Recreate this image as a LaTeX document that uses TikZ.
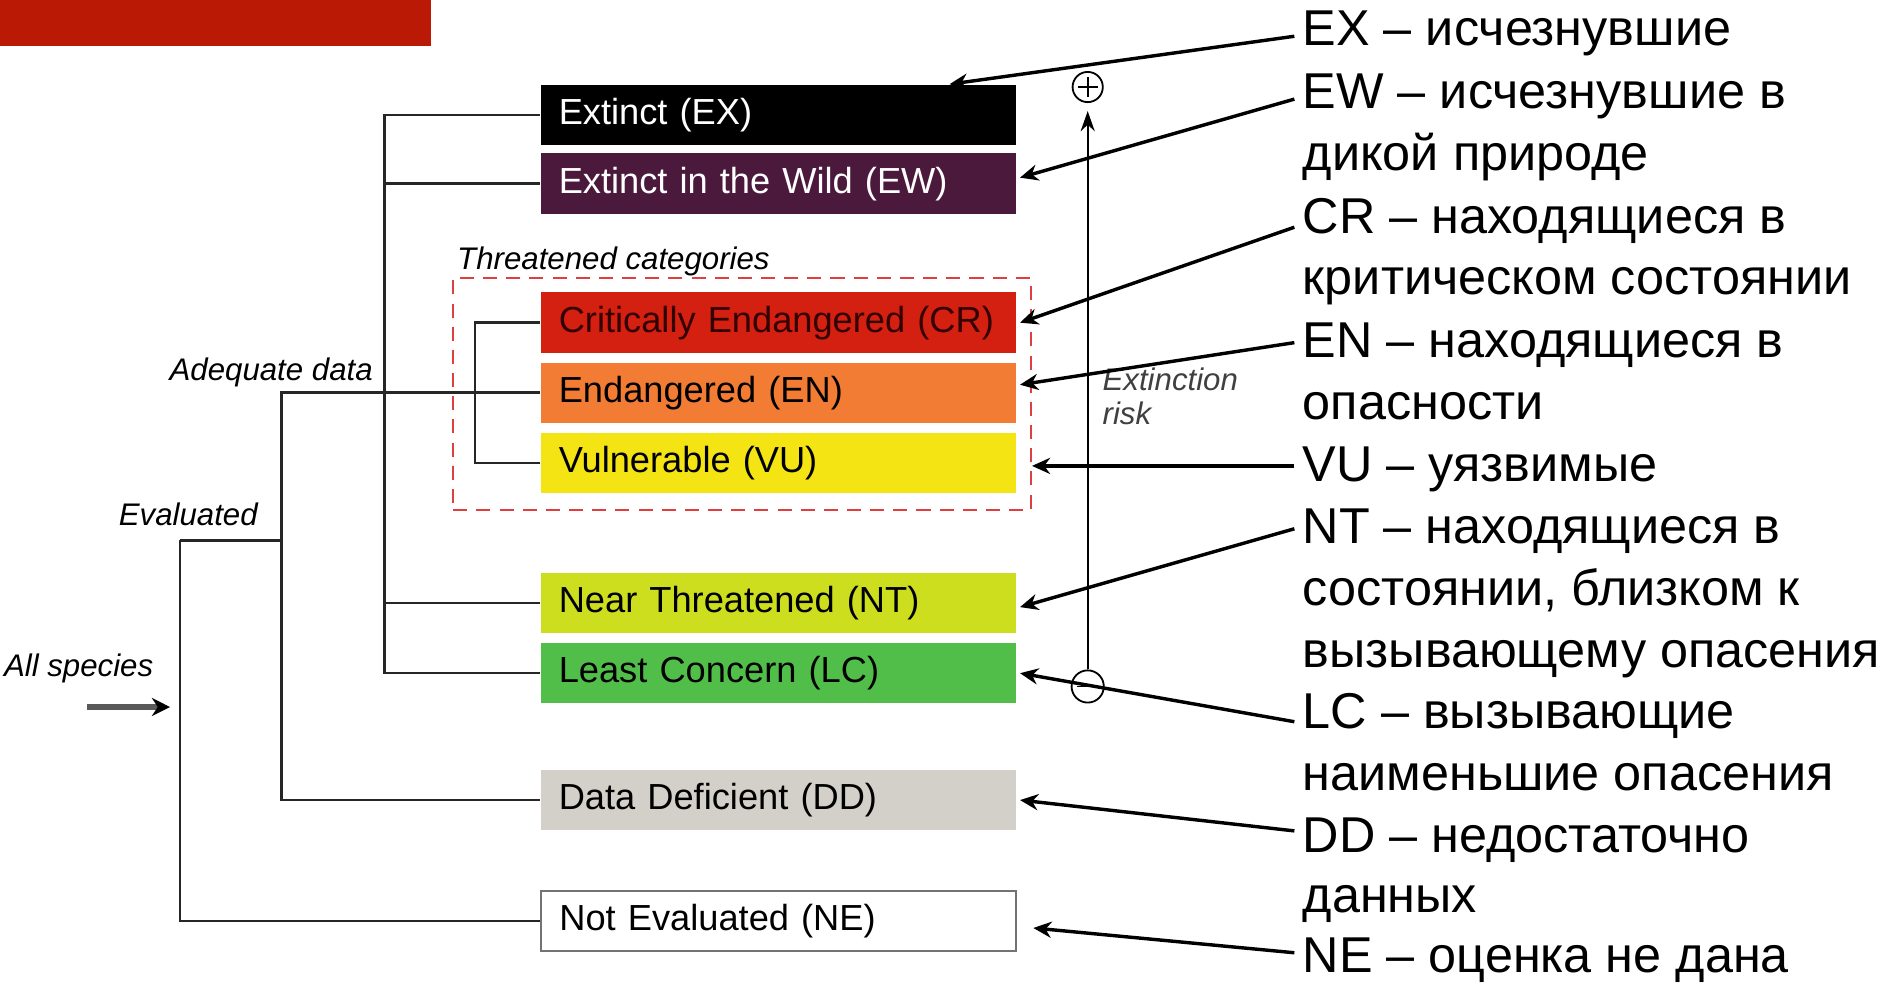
\documentclass[tikz,border=0pt]{standalone}
\usepackage{fontspec}
\setmainfont{Liberation Sans}
\usetikzlibrary{arrows.meta}
\definecolor{redbar}{RGB}{185,25,5}
\definecolor{ewpurple}{RGB}{75,25,60}
\definecolor{crred}{RGB}{212,32,16}
\definecolor{enorange}{RGB}{243,124,52}
\definecolor{vuyellow}{RGB}{245,228,20}
\definecolor{ntlime}{RGB}{205,222,30}
\definecolor{lcgreen}{RGB}{82,190,74}
\definecolor{ddgray}{RGB}{210,208,200}
\definecolor{thrred}{RGB}{222,64,64}

\begin{document}
\begin{tikzpicture}[x=0.6pt, y=-0.6pt,
  cat/.style = {anchor=west, minimum width=235.8pt, minimum height=30pt,
    inner xsep=9pt, text width=217.8pt, align=left,
    font=\fontsize{18}{21}\selectfont},
  desc/.style = {anchor=base west, inner sep=4pt,
    text height=18pt, text depth=3pt, font=\fontsize{25}{30}\selectfont},
  lbl/.style = {anchor=base west, inner sep=0pt,
    font=\itshape\fontsize{15.5}{16.8}\selectfont},
  tree/.style = {line width=1.3pt, draw=black!85},
  pointer/.style = {line width=1.7pt, -{Stealth[length=9pt,width=8pt]}},
  sign/.style = {circle, draw, line width=0.9pt, inner sep=0pt, minimum size=15pt}]
  \useasboundingbox (0,0) rectangle (1568,816);
  \fill[redbar] (0,0) rectangle (357,38);

  \node[draw=thrred, dash pattern=on 7pt off 4.5pt, line width=1.1pt,
    minimum width=286.8pt, minimum height=115.2pt] (thr) at (614,326) {};
  \node[lbl] (thrlbl) at (378,223) {Threatened categories};

  \node[cat, fill=black, text=white] (ex) at (447,95) {Extinct (EX)};
  \node[cat, fill=ewpurple, text=white] (ew) at (447,152) {Extinct in the Wild (EW)};
  \node[cat, fill=crred, text=black!80!red] (cr) at (447,267) {Critically Endangered (CR)};
  \node[cat, fill=enorange] (en) at (447,325) {Endangered (EN)};
  \node[cat, fill=vuyellow] (vu) at (447,383) {Vulnerable (VU)};
  \node[cat, fill=ntlime] (nt) at (447,499) {Near Threatened (NT)};
  \node[cat, fill=lcgreen] (lc) at (447,557) {Least Concern (LC)};
  \node[cat, fill=ddgray] (dd) at (447,662) {Data Deficient (DD)};
  \node[cat, fill=white, draw=black!55, line width=1pt] (ne) at (447,762) {Not Evaluated (NE)};

  \node[lbl] (adqlbl) at (140,315) {Adequate data};
  \node[lbl] (evllbl) at (98,435) {Evaluated};
  \node[lbl] (alllbl) at (3,560) {All species};
  \node[lbl, anchor=north west, align=left, text=black!75] (risk) at (912,304)
    {Extinction\\risk};

  \coordinate (trunk) at (318,0);
  \coordinate (thrx) at (393,0);
  \coordinate (adq) at (233,0);
  \coordinate (evl) at (149,447);
  \coordinate (allsp) at (72,585);

  \draw[tree] (ex.west) -| (lc.west -| trunk) -- (lc.west);
  \draw[tree] (ew.west) -- (ew.west -| trunk);
  \draw[tree] (nt.west) -- (nt.west -| trunk);
  \draw[tree] (cr.west) -| (vu.west -| thrx) -- (vu.west);
  \draw[tree] (en.west) -| (dd.west -| adq) -- (dd.west);
  \draw[tree] (evl) -- (evl -| adq);
  \draw[tree] (evl) |- (ne.west);
  \draw[line width=2.6pt, draw=black!65, -{Stealth[length=9pt,width=9pt,black]},
    shorten >=5pt] (allsp) -- (allsp -| evl);

  \node[sign] (plus) at (900,72) {};
  \draw[line width=0.9pt] ([yshift=5pt]plus.center) -- ([yshift=-5pt]plus.center)
    ([xshift=-5pt]plus.center) -- ([xshift=5pt]plus.center);
  \node[sign, minimum size=16pt] (minus) at (900,568) {};
  \draw[line width=0.9pt] ([xshift=-5.5pt]minus.center) -- ([xshift=5.5pt]minus.center);
  \draw[line width=1pt, -{Stealth[length=10pt,width=7pt]}, shorten >=4pt]
    (minus) -- (plus);

  \node[desc] (dex) at (1071,38) {EX – исчезнувшие};
  \node[desc] (dew) at (1071,90) {EW – исчезнувшие в};
  \node[desc] (dew2) at (1071,141) {дикой природе};
  \node[desc] (dcr) at (1071,193) {CR – находящиеся в};
  \node[desc] (dcr2) at (1071,244) {критическом состоянии};
  \node[desc] (den) at (1071,296) {EN – находящиеся в};
  \node[desc] (den2) at (1071,347) {опасности};
  \node[desc] (dvu) at (1071,398) {VU – уязвимые};
  \node[desc] (dnt) at (1071,450) {NT – находящиеся в};
  \node[desc] (dnt2) at (1071,501) {состоянии, близком к};
  \node[desc] (dnt3) at (1071,552) {вызывающему опасения};
  \node[desc] (dlc) at (1071,603) {LC – вызывающие};
  \node[desc] (dlc2) at (1071,654) {наименьшие опасения};
  \node[desc] (ddd) at (1071,705) {DD – недостаточно};
  \node[desc] (ddd2) at (1071,755) {данных};
  \node[desc] (dne) at (1071,805) {NE – оценка не дана};

  \draw[pointer] ([yshift=-2.7pt]dex.west) -- ([xshift=-33pt]ex.north east);
  \draw[pointer] ([yshift=-2.7pt]dew.west) -- ([xshift=2pt,yshift=3pt]ew.east);
  \draw[pointer] ([yshift=-4.5pt]dcr.west) -- ([xshift=2pt]cr.east);
  \draw[pointer] (den.west) -- ([xshift=2pt,yshift=4pt]en.east);
  \draw[pointer] (dvu.west) -- (dvu.west -| thr.east);
  \draw[pointer] (dnt.west) -- ([xshift=2pt,yshift=-2pt]nt.east);
  \draw[pointer] ([yshift=-4pt]dlc.west) -- ([xshift=2pt]lc.east);
  \draw[pointer] ([yshift=3pt]ddd.west) -- ([xshift=2pt]dd.east);
  \draw[pointer] ([yshift=2.5pt]dne.west) -- ([xshift=8pt,yshift=-3.5pt]ne.east);
\end{tikzpicture}
\end{document}
